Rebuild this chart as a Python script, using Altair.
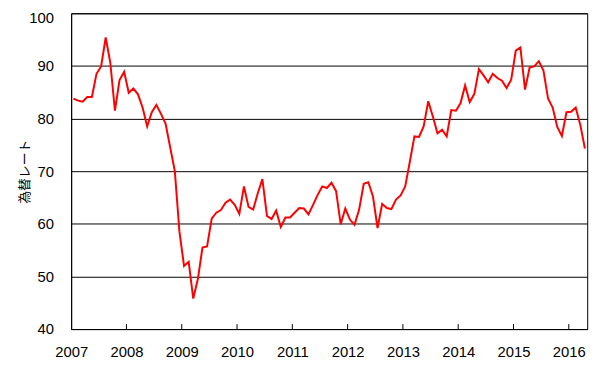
import altair as alt
import pandas as pd

# Monthly exchange-rate index, Jan 2007 .. Apr 2016
rates_2007 = [83.8, 83.4, 83.2, 84.1, 84.1, 88.5, 89.9, 95.4, 90.6, 81.5, 87.3, 88.9]
rates_2008 = [84.9, 85.7, 84.6, 82.1, 78.5, 81.2, 82.6, 80.9, 79.0, 74.5, 70.0, 58.5]
rates_2009 = [52.0, 52.8, 45.8, 49.5, 55.5, 55.7, 61.0, 62.1, 62.6, 64.0, 64.6, 63.6]
rates_2010 = [61.9, 67.1, 63.2, 62.7, 65.8, 68.5, 61.5, 60.9, 62.5, 59.4, 61.2, 61.2]
rates_2011 = [62.1, 63.0, 62.9, 61.8, 63.6, 65.5, 67.1, 66.8, 67.8, 66.2, 59.9, 62.9]
rates_2012 = [60.8, 59.8, 62.7, 67.6, 67.9, 65.2, 59.2, 63.8, 63.0, 62.8, 64.6, 65.4]
rates_2013 = [67.1, 71.8, 76.6, 76.5, 78.5, 83.3, 80.4, 77.2, 77.9, 76.6, 81.6, 81.5]
rates_2014 = [82.9, 86.3, 83.1, 84.7, 89.4, 88.2, 86.9, 88.5, 87.7, 87.2, 85.8, 87.4]
rates_2015 = [92.9, 93.5, 85.5, 89.7, 89.9, 90.9, 89.1, 83.8, 82.1, 78.4, 76.7, 81.2]
rates_2016 = [81.3, 82.1, 78.8, 74.3]

years = list(range(2007, 2017))
series_by_year = [rates_2007, rates_2008, rates_2009, rates_2010, rates_2011,
                  rates_2012, rates_2013, rates_2014, rates_2015, rates_2016]
tick_years = years[1:]
y_ticks = [40, 50, 60, 70, 80, 90, 100]

rows = []
for yr, vals in zip(years, series_by_year):
    for m, v in enumerate(vals, start=1):
        rows.append({"t": yr + (m - 0.5) / 12.0, "rate": v})
df = pd.DataFrame(rows)
ticks_df = pd.DataFrame({"t": tick_years})

W, H = 523, 320
xscale = alt.Scale(domain=[2007, 2016 + 1 / 3], nice=False, zero=False)
yscale = alt.Scale(domain=[40, 100], nice=False, zero=False)

LABEL_FONT = "Liberation Sans"

line = alt.Chart(df).mark_line(color="#FF0000", strokeWidth=2).encode(
    x=alt.X("t:Q", scale=xscale,
            axis=alt.Axis(values=years, format="d", title=None, grid=False,
                          ticks=False, labelPadding=16, labelFontSize=15,
                          labelFont=LABEL_FONT, labelColor="black",
                          domainColor="black", domainWidth=1,
                          labelFlush=False, labelOverlap=False)),
    y=alt.Y("rate:Q", scale=yscale,
            axis=alt.Axis(values=y_ticks, title="為替レート", grid=True,
                          gridColor="black", gridWidth=1, gridOpacity=1,
                          ticks=False, labelPadding=18, labelFontSize=15,
                          labelFont=LABEL_FONT, labelColor="black",
                          labelOffset=alt.condition("datum.value == 100",
                                                    alt.value(4), alt.value(0)),
                          domainColor="black", domainWidth=1,
                          titleFont="Noto Sans CJK JP", titleFontSize=13,
                          titleFontWeight="normal", titleColor="black",
                          titleAngle=270, titleX=-47, titleY=H / 2,
                          titleAlign="center", titleBaseline="middle",
                          labelFlush=False, labelOverlap=False)),
)

ticks = alt.Chart(ticks_df).mark_rule(color="black", strokeWidth=1).encode(
    x=alt.X("t:Q", scale=xscale),
    y=alt.value(H - 5),
    y2=alt.value(H),
)

chart = alt.layer(ticks, line).properties(
    width=W, height=H,
    autosize=alt.AutoSizeParams(type="none"),
    padding={"left": 64, "top": 3, "right": 16, "bottom": 30},
    background="white",
).configure_view(stroke="black", strokeWidth=1)

chart.save("out.html", embed_options={"renderer": "svg", "actions": False})
